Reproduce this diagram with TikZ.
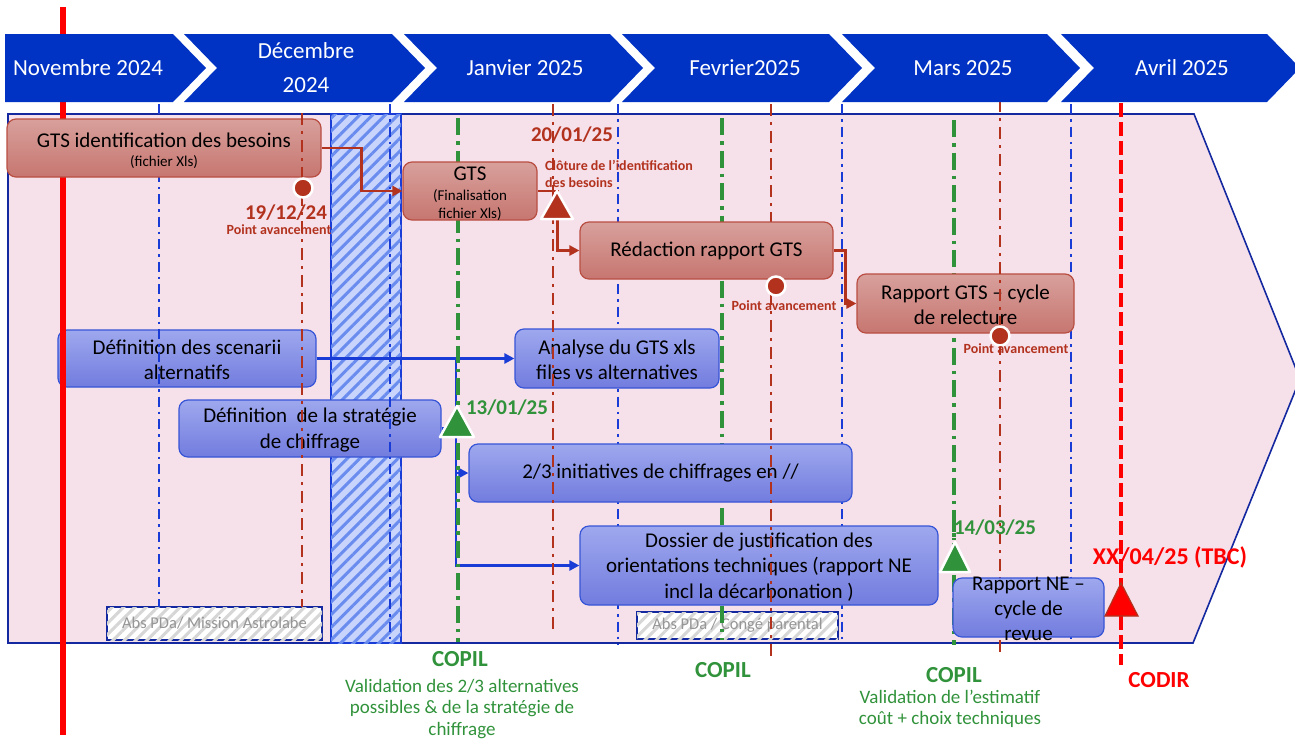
\documentclass[tikz,border=0pt]{standalone}
\usepackage{fontspec}
\setmainfont{Carlito}
\usetikzlibrary{arrows.meta,patterns.meta}
\definecolor{hblue}{RGB}{0,51,196}
\definecolor{pinkbg}{RGB}{246,224,234}
\definecolor{frameblue}{RGB}{20,40,160}
\definecolor{dred}{RGB}{178,50,30}
\definecolor{gr}{RGB}{48,146,58}
\definecolor{lblue}{RGB}{25,60,215}
\definecolor{rtop}{RGB}{216,160,156}
\definecolor{rbot}{RGB}{199,118,112}
\definecolor{rbord}{RGB}{185,78,66}
\definecolor{btop}{RGB}{158,168,238}
\definecolor{bbot}{RGB}{114,124,222}
\definecolor{bbord}{RGB}{55,85,215}
\definecolor{colfill}{RGB}{200,212,252}
\definecolor{colhatch}{RGB}{105,140,238}
\definecolor{abshatch}{RGB}{214,214,214}
\definecolor{absgrey}{RGB}{150,150,150}
\pgfdeclarelayer{bg}
\pgfdeclarelayer{conn}
\pgfsetlayers{bg,conn,main}
\tikzset{
 rbox/.style={draw=rbord, line width=1.2pt, rounded corners=9pt, top color=rtop, bottom color=rbot, inner sep=0pt},
 bbox/.style={draw=bbord, line width=1.2pt, rounded corners=9pt, top color=btop, bottom color=bbot, inner sep=0pt},
 btxt/.style={align=center, font=\fontsize{21}{25.5}\selectfont, text=black, inner sep=0pt},
 stxt/.style={align=center, font=\fontsize{15}{18}\selectfont, text=black, inner sep=0pt},
 blueline/.style={lblue, line width=2.6pt, dash pattern=on 10pt off 5pt on 2.5pt off 5pt},
 redline/.style={dred, line width=2.6pt, dash pattern=on 12pt off 6pt on 3pt off 6pt},
 greenline/.style={gr, line width=3.5pt, dash pattern=on 17pt off 6pt on 3.5pt off 6pt},
 rconn/.style={dred, line width=2.6pt, -{Triangle[length=10pt,width=10pt]}},
 bconn/.style={lblue, line width=2.6pt, -{Triangle[length=10pt,width=10pt]}},
 mdot/.style={circle, fill=dred, draw=white, line width=2.5pt, minimum size=19pt, inner sep=0pt},
 mlabel/.style={text=dred, font=\bfseries\fontsize{14}{17}\selectfont, inner sep=0pt},
 dlabel/.style={font=\bfseries\fontsize{21}{24}\selectfont, inner sep=0pt},
 htext/.style={text=white, font=\fontsize{23}{34}\selectfont, align=center, inner sep=0pt},
 absbox/.style={draw=frameblue, line width=1.6pt, fill=white, postaction={pattern={Lines[angle=45,distance=8pt,line width=3pt]}, pattern color=abshatch}, inner sep=0pt, text=absgrey},
 copil/.style={text=gr, font=\bfseries\fontsize{23}{26}\selectfont, inner sep=0pt},
 gtxt/.style={text=gr, font=\fontsize{19}{21.5}\selectfont, align=center, inner sep=0pt}
}
\begin{document}
\begin{tikzpicture}[x=1pt,y=-1pt]
\useasboundingbox (0,0) rectangle (1295,742);

% ---------- background ----------
\begin{pgfonlayer}{bg}
\draw[fill=pinkbg, draw=frameblue, line width=1.6pt] (8,114) -- (1194,114) -- (1300,379) -- (1193,643) -- (8,643) -- cycle;
\draw[draw=lblue, line width=2pt, fill=colfill, postaction={pattern={Lines[angle=45,distance=9pt,line width=3pt]}, pattern color=colhatch}] (331,114) rectangle (401,643);
\node[absbox, font=\fontsize{16.5}{19}\selectfont, minimum width=215pt, minimum height=33pt] (abs1) at (214.5,623.5) {Abs PDa/ Mission Astrolabe};
\node[absbox, font=\fontsize{16.5}{19}\selectfont, minimum width=201pt, minimum height=27pt] (abs2) at (737.5,625.5) {Abs PDa / Congé parental};
\end{pgfonlayer}

% ---------- back guide lines ----------
\draw[blueline] (618,104) -- (618,645);
\draw[blueline] (842,104) -- (842,643);
\draw[blueline] (1071,104) -- (1071,643);
\draw[greenline] (458,118) -- (458,642);
\draw[greenline] (722,118) -- (722,640);
\draw[greenline] (954,120) -- (954,645);

% ---------- blue boxes ----------
\node[bbox, minimum width=258pt, minimum height=57pt] (scen) at (187,358.5) {};
\node[btxt] (scent) at (187,360) {Définition des scenarii\\alternatifs};
\node[bbox, minimum width=262pt, minimum height=57pt] (strat) at (310,428.5) {};
\node[btxt] (stratt) at (310,430) {Définition\ \ de la stratégie\\de chiffrage};
\node[bbox, minimum width=204pt, minimum height=59pt] (analyse) at (617,358.5) {};
\node[btxt] (analyset) at (617,360) {Analyse du GTS xls\\files vs alternatives};
\node[bbox, minimum width=383pt, minimum height=58pt] (init) at (660.5,473) {};
\node[btxt] (initt) at (660.5,473) {2/3 initiatives de chiffrages en //};
\node[bbox, minimum width=358pt, minimum height=79pt] (dossier) at (759,565.5) {};
\node[btxt] (dossiert) at (759,567) {Dossier de justification des\\orientations techniques (rapport NE\\incl la décarbonation )};

% ---------- mid guide lines ----------
\draw[blueline] (159,104) -- (159,607);
\draw[blueline] (390,104) -- (390,643);
\draw[redline] (553,104) -- (553,633);
\draw[redline] (771,104) -- (771,660);

% ---------- left red bar ----------
\draw[red, line width=6pt] (63,7) -- (63,735);

% ---------- red boxes ----------
\node[rbox, minimum width=314pt, minimum height=58pt] (gtsid) at (164,148) {};
\node[btxt] (gtsidt) at (164,140) {GTS identification des besoins};
\node[stxt] (gtsids) at (164,162) {(fichier Xls)};
\node[rbox, minimum width=134pt, minimum height=58pt] (gts) at (470,191) {};
\node[btxt] (gtst) at (470,174) {GTS};
\node[stxt] (gtss) at (470,205) {(Finalisation\\fichier Xls)};
\node[rbox, minimum width=253pt, minimum height=57pt] (redac) at (706.5,250.5) {};
\node[btxt] (redact) at (706.5,251) {Rédaction rapport GTS};
\node[rbox, minimum width=217pt, minimum height=59pt] (rapgts) at (965.5,303.5) {};
\node[btxt] (rapgtst) at (965.5,305) {Rapport GTS -- cycle\\de relecture};

% ---------- front guide lines ----------
\draw[redline] (302,113) -- (302,607);
\draw[redline] (1000,100) -- (1000,652);

% ---------- last blue box ----------
\node[bbox, minimum width=151pt, minimum height=59pt] (rapne) at (1028.5,607.5) {};
\node[btxt, font=\fontsize{21}{25}\selectfont] (rapnet) at (1028.5,609) {Rapport NE --\\cycle de\\revue};

% ---------- CODIR line ----------
\draw[red, line width=4pt, dash pattern=on 14pt off 5pt] (1121,103) -- (1121,665);

% ---------- connectors ----------
\begin{pgfonlayer}{conn}
\coordinate (bj) at (456,358.5);
\draw[bconn] (scen.east) -- (analyse.west);
\draw[lblue, line width=2.6pt] (strat.east) -- (strat.east -| bj);
\draw[bconn] (bj) |- (init.west);
\draw[bconn] (bj) |- (dossier.west);
\draw[rconn] (gtsid.east) -- ++(40,0) |- (gts.west);
\draw[rconn] (gts.east) -- ++(20,0) |- (redac.west);
\draw[rconn] (redac.east) -- ++(12,0) |- (rapgts.west);
\end{pgfonlayer}

% ---------- milestones ----------
\node[mdot] (m1) at (303,188) {};
\node[dlabel, text=dred] (d1) at (286,213) {19/12/24};
\node[mlabel] (p1) at (279,230) {Point avancement};
\filldraw[fill=dred, draw=white, line width=2.5pt, line join=round] (557,191) -- (541,219) -- (573,219) -- cycle;
\node[dlabel, text=dred] (d2) at (572,135) {20/01/25};
\node[mlabel, anchor=west, align=left] (clo) at (545,174) {Clôture de l’identification\\des besoins};
\node[mdot] (m2) at (776,286) {};
\node[mlabel] (p2) at (784,306) {Point avancement};
\node[mdot] (m3) at (1000,336) {};
\node[mlabel] (p3) at (1016,349) {Point avancement};
\filldraw[fill=gr, draw=white, line width=2.5pt, line join=round] (457,406) -- (440,437) -- (474,437) -- cycle;
\node[dlabel, text=gr] (d3) at (507,408) {13/01/25};
\node[dlabel, text=gr] (d4) at (995,528) {14/03/25};
\draw[greenline] (954,515) -- (954,540);
\filldraw[fill=gr, draw=white, line width=2.5pt, line join=round] (955,542) -- (940,572) -- (970,572) -- cycle;
\node[dlabel, text=red, font=\bfseries\fontsize{24}{27}\selectfont] (d5) at (1170,557) {XX/04/25 (TBC)};
\filldraw[fill=red, draw=dred, line width=1.2pt] (1121,583) -- (1105,616) -- (1138,616) -- cycle;

% ---------- bottom labels ----------
\node[copil] (c1) at (460,659) {COPIL};
\node[gtxt] (v1) at (462,709) {Validation des 2/3 alternatives\\possibles \& de la stratégie de\\chiffrage};
\node[copil] (c2) at (723,670) {COPIL};
\node[copil] (c3) at (954,675) {COPIL};
\node[gtxt] (v3) at (950,709) {Validation de l’estimatif\\coût + choix techniques};
\node[copil, text=red] (codir) at (1159,680) {CODIR};

% ---------- header chevrons ----------
\fill[hblue] (5,34) -- (173,34) -- (206,68) -- (173,102) -- (5,102) -- cycle;
\foreach \xs/\xe in {184/392,404/610,622/829,842/1047,1061/1267}{
  \fill[hblue] (\xs,34) -- (\xe,34) -- (\xe+33,68) -- (\xe,102) -- (\xs,102) -- (\xs+33,68) -- cycle;
}
\node[htext] (h1) at (88,68) {Novembre 2024};
\node[htext] (h2) at (306,68) {Décembre\\2024};
\node[htext] (h3) at (525,68) {Janvier 2025};
\node[htext] (h4) at (745,68) {Fevrier2025};
\node[htext] (h5) at (963,68) {Mars 2025};
\node[htext] (h6) at (1182,68) {Avril 2025};
\end{tikzpicture}
\end{document}
